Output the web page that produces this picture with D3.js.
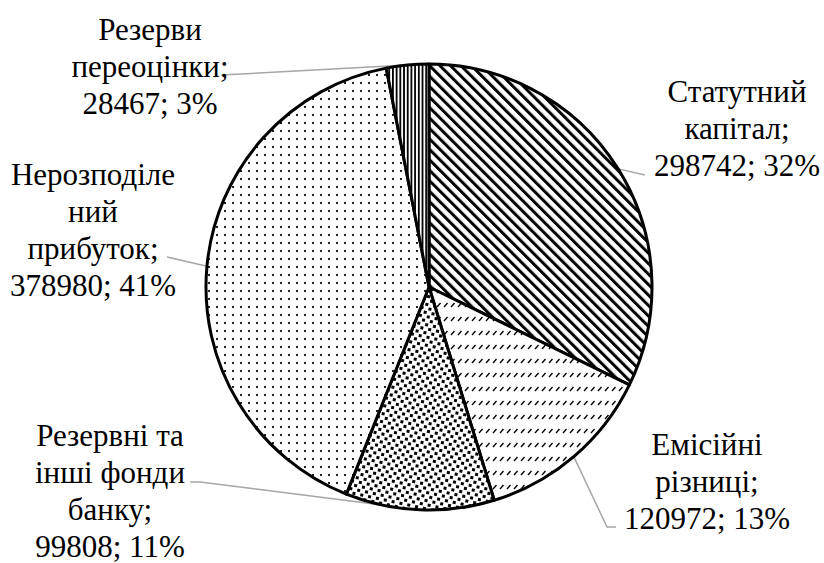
<!DOCTYPE html>
<html>
<head>
<meta charset="utf-8">
<script src="https://cdn.jsdelivr.net/npm/d3@7"></script>
<style>
  svg text { font-family: "Liberation Serif", "Times New Roman", serif !important; }
</style>
</head>
<body style="margin:0">
<script>
// data
const categories = ["Статутний капітал", "Емісійні різниці", "Резервні та інші фонди банку", "Нерозподілений прибуток", "Резерви переоцінки"];
const values = [298742, 120972, 99808, 378980, 28467];
// how Word wrapped the category names
const nameLines = [["Статутний", "капітал;"], ["Емісійні", "різниці;"], ["Резервні та", "інші фонди", "банку;"], ["Нерозподіле", "ний", "прибуток;"], ["Резерви", "переоцінки;"]];

//dimensions
const width = 824, height = 563;
const cx = 429, cy = 287, radius = 223;
const lineH = 37;

// label placement (centre x, first baseline) and leader end points
const labelPos = [
    { x: 737, y: 102, leader: [[645, 175]] },
    { x: 707, y: 455, leader: [[607, 527], [616, 527]] },
    { x: 110, y: 446, leader: [[200, 482], [190, 482]] },
    { x: 93,  y: 185, leader: [[167, 257]] },
    { x: 150, y: 40,  leader: [[221, 75]] }
];

const fills = ["url(#wideDn)", "url(#dashUp)", "url(#confetti)", "url(#dots)", "url(#vert)"];

const pie = d3.pie().sort(null).value(d => d);
const arcs = pie(values);
const total = d3.sum(values);
const pct = d3.format(".0%");

const svg = d3.select("body")
    .append("svg")
    .attr("width", width)
    .attr("height", height);

//labels first, one text per line
const labelData = [];
arcs.forEach((d, i) => {
    nameLines[i].concat([`${d.data}; ${pct(d.data / total)}`])
        .forEach((ln, k) => labelData.push({ i, k, text: ln }));
});

const labelG = svg.append("g");
labelG.selectAll("text")
    .data(labelData)
    .join("text")
    .attr("x", d => labelPos[d.i].x)
    .attr("y", d => labelPos[d.i].y + d.k * lineH)
    .attr("text-anchor", "middle")
    .attr("font-size", 31)
    .attr("font-family", "Liberation Serif")
    .attr("fill", "#000")
    .style("font-family", '"Liberation Serif"')
    .text(d => d.text);

const defs = svg.insert("defs", ":first-child");

// wide downward diagonal
defs.append("pattern")
    .attr("id", "wideDn")
    .attr("patternUnits", "userSpaceOnUse")
    .attr("width", 7.4).attr("height", 10)
    .attr("patternTransform", "rotate(-45)")
    .call(p => {
        p.append("rect").attr("width", 7.4).attr("height", 10).attr("fill", "#fff");
        p.append("rect").attr("width", 3).attr("height", 10).attr("fill", "#000");
    });

// short dashes in rows
defs.append("pattern")
    .attr("id", "dashUp")
    .attr("patternUnits", "userSpaceOnUse")
    .attr("width", 7).attr("height", 14)
    .call(p => {
        p.append("rect").attr("width", 7).attr("height", 14).attr("fill", "#fff");
        p.append("path").attr("d", "M1,6 L4.5,2").attr("stroke", "#000").attr("stroke-width", 1.4);
    });

// confetti squares
defs.append("pattern")
    .attr("id", "confetti")
    .attr("patternUnits", "userSpaceOnUse")
    .attr("width", 8).attr("height", 8)
    .attr("patternTransform", "rotate(12)")
    .call(p => {
        p.append("rect").attr("width", 8).attr("height", 8).attr("fill", "#fff");
        p.append("rect").attr("x", 0).attr("y", 0).attr("width", 3).attr("height", 3).attr("fill", "#000");
        p.append("rect").attr("x", 4).attr("y", 4).attr("width", 3).attr("height", 3).attr("fill", "#000");
    });

// small dots
defs.append("pattern")
    .attr("id", "dots")
    .attr("patternUnits", "userSpaceOnUse")
    .attr("width", 8).attr("height", 8)
    .call(p => {
        p.append("rect").attr("width", 8).attr("height", 8).attr("fill", "#fff");
        p.append("rect").attr("x", 3).attr("y", 3).attr("width", 2).attr("height", 2).attr("fill", "#222");
    });

// narrow vertical lines
defs.append("pattern")
    .attr("id", "vert")
    .attr("patternUnits", "userSpaceOnUse")
    .attr("width", 3.7).attr("height", 4)
    .call(p => {
        p.append("rect").attr("width", 3.7).attr("height", 4).attr("fill", "#fff");
        p.append("rect").attr("width", 1.8).attr("height", 4).attr("fill", "#000");
    });

const arc = d3.arc().innerRadius(0).outerRadius(radius);
const edgeArc = d3.arc().innerRadius(radius).outerRadius(radius);

//leader lines, then pie over their ends, both below the labels
const leaderG = svg.insert("g", () => labelG.node());
leaderG.selectAll("polyline")
    .data(arcs)
    .join("polyline")
    .attr("points", (d, i) => {
        const c = edgeArc.centroid(d);
        const pts = [[c[0] + cx, c[1] + cy]].concat(labelPos[i].leader);
        return pts.map(p => p.join(",")).join(" ");
    })
    .attr("fill", "none")
    .attr("stroke", "#a6a6a6")
    .attr("stroke-width", 1.5);

svg.insert("g", () => labelG.node())
    .attr("transform", `translate(${cx},${cy})`)
    .selectAll("path")
    .data(arcs)
    .join("path")
    .attr("d", arc)
    .attr("fill", (d, i) => fills[i])
    .attr("stroke", "#000")
    .attr("stroke-width", 3)
    .attr("stroke-linejoin", "round");
</script>
</body>
</html>
